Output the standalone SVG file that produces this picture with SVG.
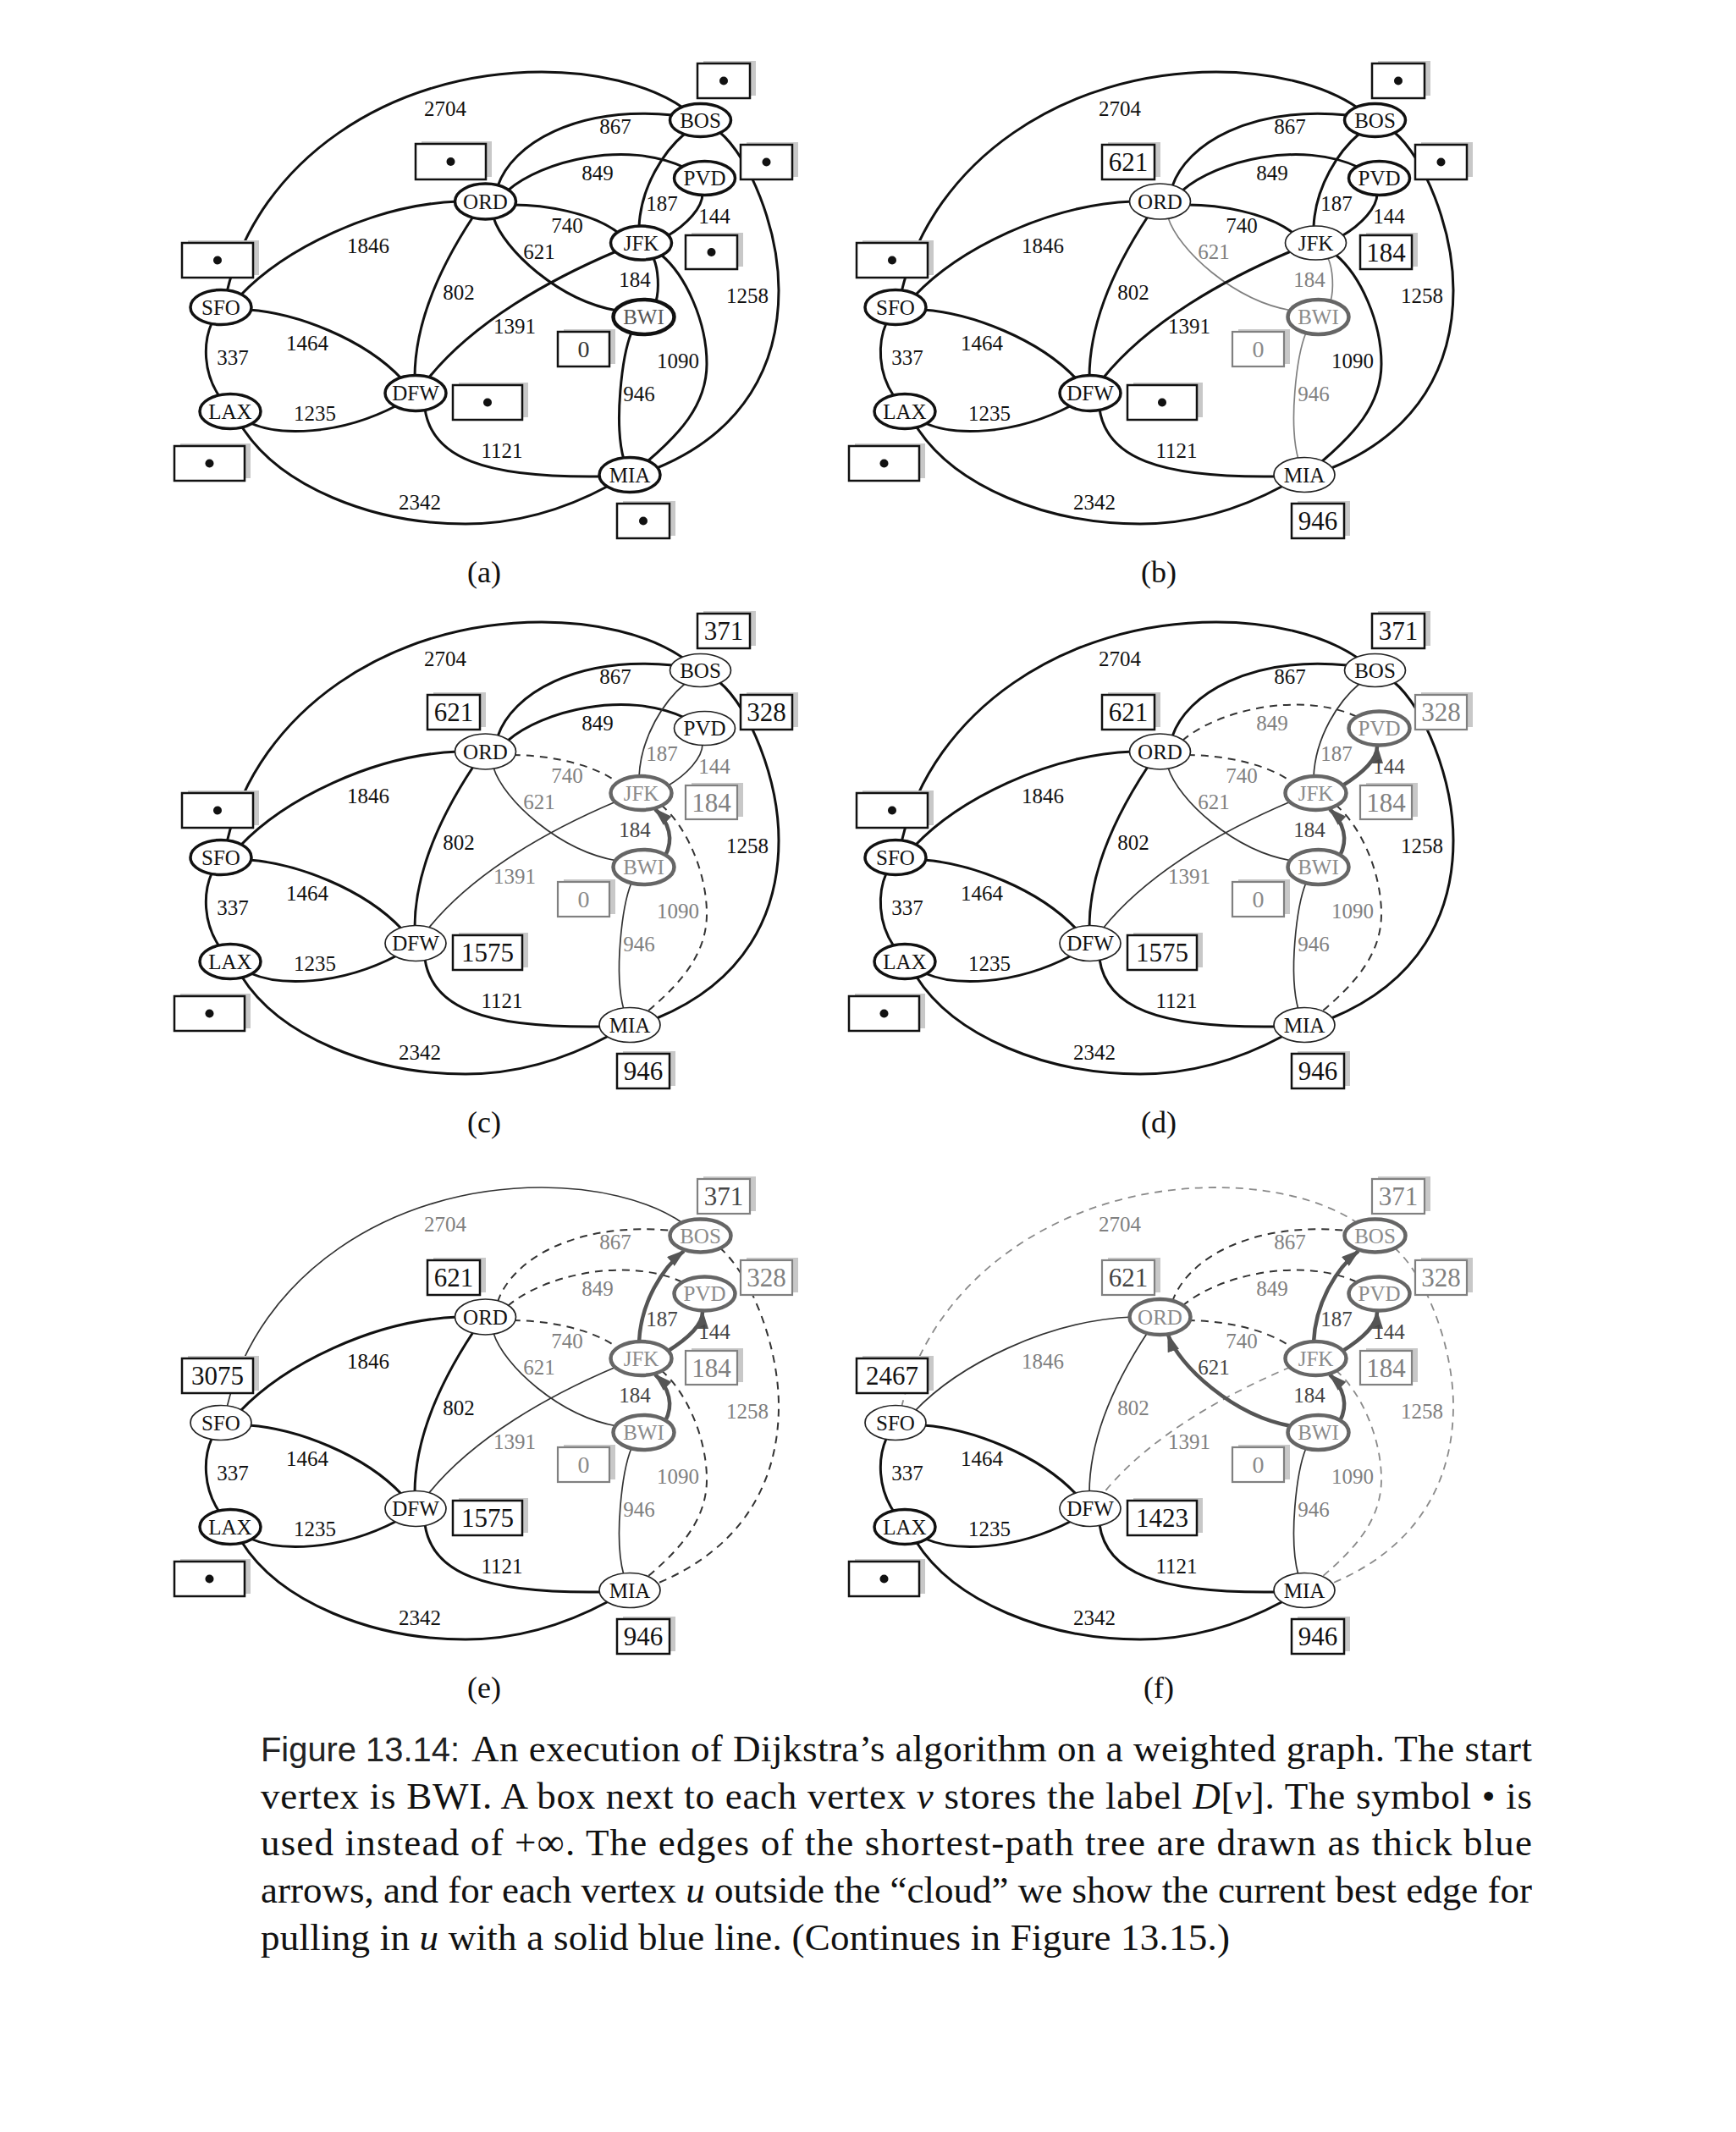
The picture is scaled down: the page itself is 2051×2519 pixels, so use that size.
<svg xmlns="http://www.w3.org/2000/svg" xmlns:xlink="http://www.w3.org/1999/xlink" width="2051" height="2519" viewBox="0 0 2051 2519">
<style>
text{font-family:"Liberation Serif","DejaVu Serif",serif}
.w{font-size:25px;text-anchor:middle;fill:#111}
.wg{fill:#808080}
.wd{fill:#454545}
.k,.t,.tg,.d,.dg,.arr{fill:none}
.k{stroke:#111;stroke-width:3}
.t{stroke:#333;stroke-width:1.7}
.tg{stroke:#808080;stroke-width:1.7}
.d{stroke:#333;stroke-width:2;stroke-dasharray:9 7}
.dg{stroke:#8a8a8a;stroke-width:1.8;stroke-dasharray:9 7}
.arr{stroke:#555;stroke-width:4.5;marker-end:url(#ah)}
.sh{fill:#c8c8c8}
.bx{fill:#fff;stroke:#111;stroke-width:2.5}
.bxg{fill:#fff;stroke:#808080;stroke-width:2.2}
.dot{fill:#111}
.v{font-size:31px;text-anchor:middle;fill:#111}
.vg{fill:#808080}
.vd{fill:#454545}
.z{font-size:28px;text-anchor:middle;fill:#333}
.zg{fill:#8a8a8a}
.n ellipse{fill:#fff}
.n text{font-size:25px;text-anchor:middle;fill:#111}
.nk ellipse{stroke:#111;stroke-width:3.5}
.nt ellipse{stroke:#222;stroke-width:1.7}
.nc ellipse{stroke:#666;stroke-width:4.5}
.nc text{fill:#8a8a8a}
.ns ellipse{stroke:#111;stroke-width:4.5}
.ns text{fill:#555}
.pl{font-size:36px;text-anchor:middle;fill:#111}
.cap{font-size:45px;fill:#111}
.fig{font-family:"Liberation Sans",Arial,sans-serif;font-size:40px;fill:#222}
</style>
<defs>
<marker id="ah" viewBox="0 0 22 14" refX="20" refY="7" markerWidth="22" markerHeight="14" markerUnits="userSpaceOnUse" orient="auto"><path d="M0,0 L22,7 L0,14 z" fill="#555"/></marker>
<path id="e_sfo_bos" d="M268,345 C305,190 460,85 640,85 C700,85 765,98 808,128"/>
<path id="e_sfo_ord" d="M283,350 C335,295 440,242 541,238"/>
<path id="e_sfo_dfw" d="M294,366 C350,370 430,400 475,448"/>
<path id="e_sfo_lax" d="M250,382 C240,405 240,440 259,468"/>
<path id="e_lax_dfw" d="M296,500 C330,515 400,515 469,479"/>
<path id="e_lax_mia" d="M285,503 C330,575 440,619 550,619 C620,619 680,595 719,574"/>
<path id="e_ord_bos" d="M588,220 C605,170 680,125 795,136"/>
<path id="e_ord_pvd" d="M600,225 C640,190 740,165 809,198"/>
<path id="e_ord_jfk" d="M606,242 C640,242 700,250 733,277"/>
<path id="e_ord_bwi" d="M583,257 C595,295 660,355 729,367"/>
<path id="e_ord_dfw" d="M559,256 C530,300 490,370 490,446"/>
<path id="e_bos_jfk" d="M809,158 C785,178 757,220 755,268"/>
<path id="e_pvd_jfk" d="M830,229 C830,245 812,265 788,279"/>
<path id="e_bos_mia" d="M850,156 C885,185 920,270 920,343 C920,430 880,510 776,553"/>
<path id="e_jfk_bwi" d="M772,305 C778,318 779,342 775,356"/>
<path id="e_jfk_mia" d="M781,301 C810,325 835,380 835,430 C835,480 800,515 765,545"/>
<path id="e_jfk_dfw" d="M728,297 C650,330 560,380 506,447"/>
<path id="e_bwi_mia" d="M746,393 C735,420 725,500 737,543"/>
<path id="e_dfw_mia" d="M502,483 C510,540 570,565 711,563"/>
</defs>
<rect x="0" y="0" width="2051" height="2519" fill="#fff"/>

<!-- ===================== PANEL (a) ===================== -->
<g id="panel-a">
<g id="a-edges">
<use href="#e_sfo_bos" class="k"/><use href="#e_sfo_ord" class="k"/><use href="#e_sfo_dfw" class="k"/><use href="#e_sfo_lax" class="k"/>
<use href="#e_lax_dfw" class="k"/><use href="#e_lax_mia" class="k"/><use href="#e_ord_bos" class="k"/><use href="#e_ord_pvd" class="k"/>
<use href="#e_ord_jfk" class="k"/><use href="#e_ord_bwi" class="k"/><use href="#e_ord_dfw" class="k"/><use href="#e_bos_jfk" class="k"/>
<use href="#e_pvd_jfk" class="k"/><use href="#e_bos_mia" class="k"/><use href="#e_jfk_bwi" class="k"/><use href="#e_jfk_mia" class="k"/>
<use href="#e_jfk_dfw" class="k"/><use href="#e_bwi_mia" class="k"/><use href="#e_dfw_mia" class="k"/>
</g>
<g id="a-weights" class="w">
<text x="526" y="136.5">2704</text><text x="435" y="298.5">1846</text><text x="363" y="413.5">1464</text><text x="275" y="430.5">337</text>
<text x="372" y="496.5">1235</text><text x="496" y="601.5">2342</text><text x="727" y="157.5">867</text><text x="706" y="212.5">849</text>
<text x="670" y="274.5">740</text><text x="637" y="305.5">621</text><text x="542" y="353.5">802</text><text x="782" y="248.5">187</text>
<text x="844" y="263.5">144</text><text x="883" y="357.5">1258</text><text x="750" y="338.5">184</text><text x="801" y="434.5">1090</text>
<text x="608" y="393.5">1391</text><text x="755" y="473.5">946</text><text x="593" y="540.5">1121</text>
</g>
<g id="a-boxes">
<g id="a-box-BOS"><rect class="sh" x="831" y="72" width="62" height="41"/><rect class="bx" x="824" y="75" width="62" height="41"/><circle class="dot" cx="855" cy="95.5" r="5"/></g>
<g id="a-box-PVD"><rect class="sh" x="882" y="168" width="61" height="41"/><rect class="bx" x="875" y="171" width="61" height="41"/><circle class="dot" cx="905.5" cy="191.5" r="5"/></g>
<g id="a-box-ORD"><rect class="sh" x="498" y="167" width="83" height="42"/><rect class="bx" x="491" y="170" width="83" height="42"/><circle class="dot" cx="532.5" cy="191" r="5"/></g>
<g id="a-box-SFO"><rect class="sh" x="222" y="284" width="84" height="41"/><rect class="bx" x="215" y="287" width="84" height="41"/><circle class="dot" cx="257" cy="307.5" r="5"/></g>
<g id="a-box-JFK"><rect class="sh" x="817" y="275" width="61" height="40"/><rect class="bx" x="810" y="278" width="61" height="40"/><circle class="dot" cx="840.5" cy="298" r="5"/></g>
<g id="a-box-BWI"><rect class="sh" x="666" y="389" width="61" height="41"/><rect class="bx" x="659" y="392" width="61" height="41"/><text class="z" x="689.5" y="422">0</text></g>
<g id="a-box-DFW"><rect class="sh" x="542" y="452" width="82" height="41"/><rect class="bx" x="535" y="455" width="82" height="41"/><circle class="dot" cx="576" cy="475.5" r="5"/></g>
<g id="a-box-LAX"><rect class="sh" x="213" y="524" width="83" height="41"/><rect class="bx" x="206" y="527" width="83" height="41"/><circle class="dot" cx="247.5" cy="547.5" r="5"/></g>
<g id="a-box-MIA"><rect class="sh" x="736" y="592" width="62" height="41"/><rect class="bx" x="729" y="595" width="62" height="41"/><circle class="dot" cx="760" cy="615.5" r="5"/></g>
</g>
<g id="a-SFO" class="n nk"><ellipse cx="261" cy="363" rx="36" ry="20.5"/><text x="261" y="371.5">SFO</text></g>
<g id="a-LAX" class="n nk"><ellipse cx="272" cy="486" rx="36" ry="20.5"/><text x="272" y="494.5">LAX</text></g>
<g id="a-DFW" class="n nk"><ellipse cx="491" cy="464.5" rx="36" ry="21"/><text x="491" y="473">DFW</text></g>
<g id="a-ORD" class="n nk"><ellipse cx="573.5" cy="238" rx="36" ry="21"/><text x="573.5" y="246.5">ORD</text></g>
<g id="a-BOS" class="n nk"><ellipse cx="827.5" cy="142" rx="36" ry="19.5"/><text x="827.5" y="150.5">BOS</text></g>
<g id="a-PVD" class="n nk"><ellipse cx="832.5" cy="210.5" rx="36" ry="20"/><text x="832.5" y="219">PVD</text></g>
<g id="a-JFK" class="n nk"><ellipse cx="757.5" cy="287" rx="36" ry="20"/><text x="757.5" y="295.5">JFK</text></g>
<g id="a-BWI" class="n ns"><ellipse cx="760.5" cy="374.5" rx="36" ry="20.5"/><text x="760.5" y="383">BWI</text></g>
<g id="a-MIA" class="n nk"><ellipse cx="744" cy="561" rx="36" ry="20.5"/><text x="744" y="569.5">MIA</text></g>
<text class="pl" x="572" y="688">(a)</text>
</g>

<!-- ===================== PANEL (b) ===================== -->
<g id="panel-b" transform="translate(797,0)">
<g id="b-edges">
<use href="#e_sfo_bos" class="k"/><use href="#e_sfo_ord" class="k"/><use href="#e_sfo_dfw" class="k"/><use href="#e_sfo_lax" class="k"/>
<use href="#e_lax_dfw" class="k"/><use href="#e_lax_mia" class="k"/><use href="#e_ord_bos" class="k"/><use href="#e_ord_pvd" class="k"/>
<use href="#e_ord_jfk" class="k"/><use href="#e_ord_bwi" class="tg"/><use href="#e_ord_dfw" class="k"/><use href="#e_bos_jfk" class="k"/>
<use href="#e_pvd_jfk" class="k"/><use href="#e_bos_mia" class="k"/><use href="#e_jfk_bwi" class="tg"/><use href="#e_jfk_mia" class="k"/>
<use href="#e_jfk_dfw" class="k"/><use href="#e_bwi_mia" class="tg"/><use href="#e_dfw_mia" class="k"/>
</g>
<g id="b-weights" class="w">
<text x="526" y="136.5">2704</text><text x="435" y="298.5">1846</text><text x="363" y="413.5">1464</text><text x="275" y="430.5">337</text>
<text x="372" y="496.5">1235</text><text x="496" y="601.5">2342</text><text x="727" y="157.5">867</text><text x="706" y="212.5">849</text>
<text x="670" y="274.5">740</text><text class="wg" x="637" y="305.5">621</text><text x="542" y="353.5">802</text><text x="782" y="248.5">187</text>
<text x="844" y="263.5">144</text><text x="883" y="357.5">1258</text><text class="wg" x="750" y="338.5">184</text><text x="801" y="434.5">1090</text>
<text x="608" y="393.5">1391</text><text class="wg" x="755" y="473.5">946</text><text x="593" y="540.5">1121</text>
</g>
<g id="b-boxes">
<g id="b-box-BOS"><rect class="sh" x="831" y="72" width="62" height="41"/><rect class="bx" x="824" y="75" width="62" height="41"/><circle class="dot" cx="855" cy="95.5" r="5"/></g>
<g id="b-box-PVD"><rect class="sh" x="882" y="168" width="61" height="41"/><rect class="bx" x="875" y="171" width="61" height="41"/><circle class="dot" cx="905.5" cy="191.5" r="5"/></g>
<g id="b-box-ORD"><rect class="sh" x="512" y="168" width="62" height="41"/><rect class="bx" x="505" y="171" width="62" height="41"/><text class="v" x="536" y="202">621</text></g>
<g id="b-box-SFO"><rect class="sh" x="222" y="284" width="84" height="41"/><rect class="bx" x="215" y="287" width="84" height="41"/><circle class="dot" cx="257" cy="307.5" r="5"/></g>
<g id="b-box-JFK"><rect class="sh" x="817" y="275" width="61" height="40"/><rect class="bx" x="810" y="278" width="61" height="40"/><text class="v" x="840.5" y="308.5">184</text></g>
<g id="b-box-BWI"><rect class="sh" x="666" y="389" width="61" height="41"/><rect class="bxg" x="659" y="392" width="61" height="41"/><text class="z zg" x="689.5" y="422">0</text></g>
<g id="b-box-DFW"><rect class="sh" x="542" y="452" width="82" height="41"/><rect class="bx" x="535" y="455" width="82" height="41"/><circle class="dot" cx="576" cy="475.5" r="5"/></g>
<g id="b-box-LAX"><rect class="sh" x="213" y="524" width="83" height="41"/><rect class="bx" x="206" y="527" width="83" height="41"/><circle class="dot" cx="247.5" cy="547.5" r="5"/></g>
<g id="b-box-MIA"><rect class="sh" x="736" y="592" width="62" height="41"/><rect class="bx" x="729" y="595" width="62" height="41"/><text class="v" x="760" y="626">946</text></g>
</g>
<g id="b-SFO" class="n nk"><ellipse cx="261" cy="363" rx="36" ry="20.5"/><text x="261" y="371.5">SFO</text></g>
<g id="b-LAX" class="n nk"><ellipse cx="272" cy="486" rx="36" ry="20.5"/><text x="272" y="494.5">LAX</text></g>
<g id="b-DFW" class="n nk"><ellipse cx="491" cy="464.5" rx="36" ry="21"/><text x="491" y="473">DFW</text></g>
<g id="b-ORD" class="n nt"><ellipse cx="573.5" cy="238" rx="36" ry="21"/><text x="573.5" y="246.5">ORD</text></g>
<g id="b-BOS" class="n nk"><ellipse cx="827.5" cy="142" rx="36" ry="19.5"/><text x="827.5" y="150.5">BOS</text></g>
<g id="b-PVD" class="n nk"><ellipse cx="832.5" cy="210.5" rx="36" ry="20"/><text x="832.5" y="219">PVD</text></g>
<g id="b-JFK" class="n nt"><ellipse cx="757.5" cy="287" rx="36" ry="20"/><text x="757.5" y="295.5">JFK</text></g>
<g id="b-BWI" class="n nc"><ellipse cx="760.5" cy="374.5" rx="36" ry="20.5"/><text x="760.5" y="383">BWI</text></g>
<g id="b-MIA" class="n nt"><ellipse cx="744" cy="561" rx="36" ry="20.5"/><text x="744" y="569.5">MIA</text></g>
<text class="pl" x="572" y="688">(b)</text>
</g>

<!-- ===================== PANEL (c) ===================== -->
<g id="panel-c" transform="translate(0,650)">
<g id="c-edges">
<use href="#e_sfo_bos" class="k"/><use href="#e_sfo_ord" class="k"/><use href="#e_sfo_dfw" class="k"/><use href="#e_sfo_lax" class="k"/>
<use href="#e_lax_dfw" class="k"/><use href="#e_lax_mia" class="k"/><use href="#e_ord_bos" class="k"/><use href="#e_ord_pvd" class="k"/>
<use href="#e_ord_jfk" class="d"/><use href="#e_ord_bwi" class="t"/><use href="#e_ord_dfw" class="k"/><use href="#e_bos_jfk" class="t"/>
<use href="#e_pvd_jfk" class="t"/><use href="#e_bos_mia" class="k"/><use href="#e_jfk_mia" class="d"/>
<use href="#e_jfk_dfw" class="t"/><use href="#e_bwi_mia" class="t"/><use href="#e_dfw_mia" class="k"/>
<path class="arr" d="M786,361 C796,342 791,322 774,306"/>
</g>
<g id="c-weights" class="w">
<text x="526" y="136.5">2704</text><text x="435" y="298.5">1846</text><text x="363" y="413.5">1464</text><text x="275" y="430.5">337</text>
<text x="372" y="496.5">1235</text><text x="496" y="601.5">2342</text><text x="727" y="157.5">867</text><text x="706" y="212.5">849</text>
<text class="wg" x="670" y="274.5">740</text><text class="wg" x="637" y="305.5">621</text><text x="542" y="353.5">802</text><text class="wg" x="782" y="248.5">187</text>
<text class="wg" x="844" y="263.5">144</text><text x="883" y="357.5">1258</text><text class="wd" x="750" y="338.5">184</text><text class="wg" x="801" y="434.5">1090</text>
<text class="wg" x="608" y="393.5">1391</text><text class="wg" x="755" y="473.5">946</text><text x="593" y="540.5">1121</text>
</g>
<g id="c-boxes">
<g id="c-box-BOS"><rect class="sh" x="831" y="72" width="62" height="41"/><rect class="bx" x="824" y="75" width="62" height="41"/><text class="v" x="855" y="106">371</text></g>
<g id="c-box-PVD"><rect class="sh" x="882" y="168" width="61" height="41"/><rect class="bx" x="875" y="171" width="61" height="41"/><text class="v" x="905.5" y="202">328</text></g>
<g id="c-box-ORD"><rect class="sh" x="512" y="168" width="62" height="41"/><rect class="bx" x="505" y="171" width="62" height="41"/><text class="v" x="536" y="202">621</text></g>
<g id="c-box-SFO"><rect class="sh" x="222" y="284" width="84" height="41"/><rect class="bx" x="215" y="287" width="84" height="41"/><circle class="dot" cx="257" cy="307.5" r="5"/></g>
<g id="c-box-JFK"><rect class="sh" x="817" y="275" width="61" height="40"/><rect class="bxg" x="810" y="278" width="61" height="40"/><text class="v vg" x="840.5" y="308.5">184</text></g>
<g id="c-box-BWI"><rect class="sh" x="666" y="389" width="61" height="41"/><rect class="bxg" x="659" y="392" width="61" height="41"/><text class="z zg" x="689.5" y="422">0</text></g>
<g id="c-box-DFW"><rect class="sh" x="542" y="452" width="82" height="41"/><rect class="bx" x="535" y="455" width="82" height="41"/><text class="v" x="576" y="486">1575</text></g>
<g id="c-box-LAX"><rect class="sh" x="213" y="524" width="83" height="41"/><rect class="bx" x="206" y="527" width="83" height="41"/><circle class="dot" cx="247.5" cy="547.5" r="5"/></g>
<g id="c-box-MIA"><rect class="sh" x="736" y="592" width="62" height="41"/><rect class="bx" x="729" y="595" width="62" height="41"/><text class="v" x="760" y="626">946</text></g>
</g>
<g id="c-SFO" class="n nk"><ellipse cx="261" cy="363" rx="36" ry="20.5"/><text x="261" y="371.5">SFO</text></g>
<g id="c-LAX" class="n nk"><ellipse cx="272" cy="486" rx="36" ry="20.5"/><text x="272" y="494.5">LAX</text></g>
<g id="c-DFW" class="n nt"><ellipse cx="491" cy="464.5" rx="36" ry="21"/><text x="491" y="473">DFW</text></g>
<g id="c-ORD" class="n nt"><ellipse cx="573.5" cy="238" rx="36" ry="21"/><text x="573.5" y="246.5">ORD</text></g>
<g id="c-BOS" class="n nt"><ellipse cx="827.5" cy="142" rx="36" ry="19.5"/><text x="827.5" y="150.5">BOS</text></g>
<g id="c-PVD" class="n nt"><ellipse cx="832.5" cy="210.5" rx="36" ry="20"/><text x="832.5" y="219">PVD</text></g>
<g id="c-JFK" class="n nc"><ellipse cx="757.5" cy="287" rx="36" ry="20"/><text x="757.5" y="295.5">JFK</text></g>
<g id="c-BWI" class="n nc"><ellipse cx="760.5" cy="374.5" rx="36" ry="20.5"/><text x="760.5" y="383">BWI</text></g>
<g id="c-MIA" class="n nt"><ellipse cx="744" cy="561" rx="36" ry="20.5"/><text x="744" y="569.5">MIA</text></g>
<text class="pl" x="572" y="688">(c)</text>
</g>

<!-- ===================== PANEL (d) ===================== -->
<g id="panel-d" transform="translate(797,650)">
<g id="d-edges">
<use href="#e_sfo_bos" class="k"/><use href="#e_sfo_ord" class="k"/><use href="#e_sfo_dfw" class="k"/><use href="#e_sfo_lax" class="k"/>
<use href="#e_lax_dfw" class="k"/><use href="#e_lax_mia" class="k"/><use href="#e_ord_bos" class="k"/><use href="#e_ord_pvd" class="d"/>
<use href="#e_ord_jfk" class="d"/><use href="#e_ord_bwi" class="t"/><use href="#e_ord_dfw" class="k"/><use href="#e_bos_jfk" class="t"/>
<use href="#e_bos_mia" class="k"/><use href="#e_jfk_mia" class="d"/>
<use href="#e_jfk_dfw" class="t"/><use href="#e_bwi_mia" class="t"/><use href="#e_dfw_mia" class="k"/>
<path class="arr" d="M786,361 C796,342 791,322 774,306"/>
<path class="arr" d="M788,279 C815,262 830,247 830,232"/>
</g>
<g id="d-weights" class="w">
<text x="526" y="136.5">2704</text><text x="435" y="298.5">1846</text><text x="363" y="413.5">1464</text><text x="275" y="430.5">337</text>
<text x="372" y="496.5">1235</text><text x="496" y="601.5">2342</text><text x="727" y="157.5">867</text><text class="wg" x="706" y="212.5">849</text>
<text class="wg" x="670" y="274.5">740</text><text class="wg" x="637" y="305.5">621</text><text x="542" y="353.5">802</text><text class="wg" x="782" y="248.5">187</text>
<text class="wd" x="844" y="263.5">144</text><text x="883" y="357.5">1258</text><text class="wd" x="750" y="338.5">184</text><text class="wg" x="801" y="434.5">1090</text>
<text class="wg" x="608" y="393.5">1391</text><text class="wg" x="755" y="473.5">946</text><text x="593" y="540.5">1121</text>
</g>
<g id="d-boxes">
<g id="d-box-BOS"><rect class="sh" x="831" y="72" width="62" height="41"/><rect class="bx" x="824" y="75" width="62" height="41"/><text class="v" x="855" y="106">371</text></g>
<g id="d-box-PVD"><rect class="sh" x="882" y="168" width="61" height="41"/><rect class="bxg" x="875" y="171" width="61" height="41"/><text class="v vg" x="905.5" y="202">328</text></g>
<g id="d-box-ORD"><rect class="sh" x="512" y="168" width="62" height="41"/><rect class="bx" x="505" y="171" width="62" height="41"/><text class="v" x="536" y="202">621</text></g>
<g id="d-box-SFO"><rect class="sh" x="222" y="284" width="84" height="41"/><rect class="bx" x="215" y="287" width="84" height="41"/><circle class="dot" cx="257" cy="307.5" r="5"/></g>
<g id="d-box-JFK"><rect class="sh" x="817" y="275" width="61" height="40"/><rect class="bxg" x="810" y="278" width="61" height="40"/><text class="v vg" x="840.5" y="308.5">184</text></g>
<g id="d-box-BWI"><rect class="sh" x="666" y="389" width="61" height="41"/><rect class="bxg" x="659" y="392" width="61" height="41"/><text class="z zg" x="689.5" y="422">0</text></g>
<g id="d-box-DFW"><rect class="sh" x="542" y="452" width="82" height="41"/><rect class="bx" x="535" y="455" width="82" height="41"/><text class="v" x="576" y="486">1575</text></g>
<g id="d-box-LAX"><rect class="sh" x="213" y="524" width="83" height="41"/><rect class="bx" x="206" y="527" width="83" height="41"/><circle class="dot" cx="247.5" cy="547.5" r="5"/></g>
<g id="d-box-MIA"><rect class="sh" x="736" y="592" width="62" height="41"/><rect class="bx" x="729" y="595" width="62" height="41"/><text class="v" x="760" y="626">946</text></g>
</g>
<g id="d-SFO" class="n nk"><ellipse cx="261" cy="363" rx="36" ry="20.5"/><text x="261" y="371.5">SFO</text></g>
<g id="d-LAX" class="n nk"><ellipse cx="272" cy="486" rx="36" ry="20.5"/><text x="272" y="494.5">LAX</text></g>
<g id="d-DFW" class="n nt"><ellipse cx="491" cy="464.5" rx="36" ry="21"/><text x="491" y="473">DFW</text></g>
<g id="d-ORD" class="n nt"><ellipse cx="573.5" cy="238" rx="36" ry="21"/><text x="573.5" y="246.5">ORD</text></g>
<g id="d-BOS" class="n nt"><ellipse cx="827.5" cy="142" rx="36" ry="19.5"/><text x="827.5" y="150.5">BOS</text></g>
<g id="d-PVD" class="n nc"><ellipse cx="832.5" cy="210.5" rx="36" ry="20"/><text x="832.5" y="219">PVD</text></g>
<g id="d-JFK" class="n nc"><ellipse cx="757.5" cy="287" rx="36" ry="20"/><text x="757.5" y="295.5">JFK</text></g>
<g id="d-BWI" class="n nc"><ellipse cx="760.5" cy="374.5" rx="36" ry="20.5"/><text x="760.5" y="383">BWI</text></g>
<g id="d-MIA" class="n nt"><ellipse cx="744" cy="561" rx="36" ry="20.5"/><text x="744" y="569.5">MIA</text></g>
<text class="pl" x="572" y="688">(d)</text>
</g>

<!-- ===================== PANEL (e) ===================== -->
<g id="panel-e" transform="translate(0,1318)">
<g id="e-edges">
<use href="#e_sfo_bos" class="t"/><use href="#e_sfo_ord" class="k"/><use href="#e_sfo_dfw" class="k"/><use href="#e_sfo_lax" class="k"/>
<use href="#e_lax_dfw" class="k"/><use href="#e_lax_mia" class="k"/><use href="#e_ord_bos" class="d"/><use href="#e_ord_pvd" class="d"/>
<use href="#e_ord_jfk" class="d"/><use href="#e_ord_bwi" class="t"/><use href="#e_ord_dfw" class="k"/>
<use href="#e_bos_mia" class="d"/><use href="#e_jfk_mia" class="d"/>
<use href="#e_jfk_dfw" class="t"/><use href="#e_bwi_mia" class="t"/><use href="#e_dfw_mia" class="k"/>
<path class="arr" d="M786,361 C796,342 791,322 774,306"/>
<path class="arr" d="M788,279 C815,262 830,247 830,232"/>
<path class="arr" d="M755,268 C757,220 783,180 808,160"/>
</g>
<g id="e-weights" class="w">
<text class="wg" x="526" y="136.5">2704</text><text x="435" y="298.5">1846</text><text x="363" y="413.5">1464</text><text x="275" y="430.5">337</text>
<text x="372" y="496.5">1235</text><text x="496" y="601.5">2342</text><text class="wg" x="727" y="157.5">867</text><text class="wg" x="706" y="212.5">849</text>
<text class="wg" x="670" y="274.5">740</text><text class="wg" x="637" y="305.5">621</text><text x="542" y="353.5">802</text><text class="wd" x="782" y="248.5">187</text>
<text class="wd" x="844" y="263.5">144</text><text class="wg" x="883" y="357.5">1258</text><text class="wd" x="750" y="338.5">184</text><text class="wg" x="801" y="434.5">1090</text>
<text class="wg" x="608" y="393.5">1391</text><text class="wg" x="755" y="473.5">946</text><text x="593" y="540.5">1121</text>
</g>
<g id="e-boxes">
<g id="e-box-BOS"><rect class="sh" x="831" y="72" width="62" height="41"/><rect class="bxg" x="824" y="75" width="62" height="41"/><text class="v vd" x="855" y="106">371</text></g>
<g id="e-box-PVD"><rect class="sh" x="882" y="168" width="61" height="41"/><rect class="bxg" x="875" y="171" width="61" height="41"/><text class="v vg" x="905.5" y="202">328</text></g>
<g id="e-box-ORD"><rect class="sh" x="512" y="168" width="62" height="41"/><rect class="bx" x="505" y="171" width="62" height="41"/><text class="v" x="536" y="202">621</text></g>
<g id="e-box-SFO"><rect class="sh" x="222" y="284" width="84" height="41"/><rect class="bx" x="215" y="287" width="84" height="41"/><text class="v" x="257" y="318">3075</text></g>
<g id="e-box-JFK"><rect class="sh" x="817" y="275" width="61" height="40"/><rect class="bxg" x="810" y="278" width="61" height="40"/><text class="v vg" x="840.5" y="308.5">184</text></g>
<g id="e-box-BWI"><rect class="sh" x="666" y="389" width="61" height="41"/><rect class="bxg" x="659" y="392" width="61" height="41"/><text class="z zg" x="689.5" y="422">0</text></g>
<g id="e-box-DFW"><rect class="sh" x="542" y="452" width="82" height="41"/><rect class="bx" x="535" y="455" width="82" height="41"/><text class="v" x="576" y="486">1575</text></g>
<g id="e-box-LAX"><rect class="sh" x="213" y="524" width="83" height="41"/><rect class="bx" x="206" y="527" width="83" height="41"/><circle class="dot" cx="247.5" cy="547.5" r="5"/></g>
<g id="e-box-MIA"><rect class="sh" x="736" y="592" width="62" height="41"/><rect class="bx" x="729" y="595" width="62" height="41"/><text class="v" x="760" y="626">946</text></g>
</g>
<g id="e-SFO" class="n nt"><ellipse cx="261" cy="363" rx="36" ry="20.5"/><text x="261" y="371.5">SFO</text></g>
<g id="e-LAX" class="n nk"><ellipse cx="272" cy="486" rx="36" ry="20.5"/><text x="272" y="494.5">LAX</text></g>
<g id="e-DFW" class="n nt"><ellipse cx="491" cy="464.5" rx="36" ry="21"/><text x="491" y="473">DFW</text></g>
<g id="e-ORD" class="n nt"><ellipse cx="573.5" cy="238" rx="36" ry="21"/><text x="573.5" y="246.5">ORD</text></g>
<g id="e-BOS" class="n nc"><ellipse cx="827.5" cy="142" rx="36" ry="19.5"/><text x="827.5" y="150.5">BOS</text></g>
<g id="e-PVD" class="n nc"><ellipse cx="832.5" cy="210.5" rx="36" ry="20"/><text x="832.5" y="219">PVD</text></g>
<g id="e-JFK" class="n nc"><ellipse cx="757.5" cy="287" rx="36" ry="20"/><text x="757.5" y="295.5">JFK</text></g>
<g id="e-BWI" class="n nc"><ellipse cx="760.5" cy="374.5" rx="36" ry="20.5"/><text x="760.5" y="383">BWI</text></g>
<g id="e-MIA" class="n nt"><ellipse cx="744" cy="561" rx="36" ry="20.5"/><text x="744" y="569.5">MIA</text></g>
<text class="pl" x="572" y="688">(e)</text>
</g>

<!-- ===================== PANEL (f) ===================== -->
<g id="panel-f" transform="translate(797,1318)">
<g id="f-edges">
<use href="#e_sfo_bos" class="dg"/><use href="#e_sfo_ord" class="t"/><use href="#e_sfo_dfw" class="k"/><use href="#e_sfo_lax" class="k"/>
<use href="#e_lax_dfw" class="k"/><use href="#e_lax_mia" class="k"/><use href="#e_ord_bos" class="d"/><use href="#e_ord_pvd" class="d"/>
<use href="#e_ord_jfk" class="d"/><use href="#e_ord_dfw" class="t"/>
<use href="#e_bos_mia" class="dg"/><use href="#e_jfk_mia" class="dg"/>
<use href="#e_jfk_dfw" class="dg"/><use href="#e_bwi_mia" class="t"/><use href="#e_dfw_mia" class="k"/>
<path class="arr" d="M786,361 C796,342 791,322 774,306"/>
<path class="arr" d="M788,279 C815,262 830,247 830,232"/>
<path class="arr" d="M755,268 C757,220 783,180 808,160"/>
<path class="arr" d="M729,367 C660,355 595,295 583,259"/>
</g>
<g id="f-weights" class="w">
<text class="wg" x="526" y="136.5">2704</text><text class="wg" x="435" y="298.5">1846</text><text x="363" y="413.5">1464</text><text x="275" y="430.5">337</text>
<text x="372" y="496.5">1235</text><text x="496" y="601.5">2342</text><text class="wg" x="727" y="157.5">867</text><text class="wg" x="706" y="212.5">849</text>
<text class="wg" x="670" y="274.5">740</text><text class="wd" x="637" y="305.5">621</text><text class="wg" x="542" y="353.5">802</text><text class="wd" x="782" y="248.5">187</text>
<text class="wd" x="844" y="263.5">144</text><text class="wg" x="883" y="357.5">1258</text><text class="wd" x="750" y="338.5">184</text><text class="wg" x="801" y="434.5">1090</text>
<text class="wg" x="608" y="393.5">1391</text><text class="wg" x="755" y="473.5">946</text><text x="593" y="540.5">1121</text>
</g>
<g id="f-boxes">
<g id="f-box-BOS"><rect class="sh" x="831" y="72" width="62" height="41"/><rect class="bxg" x="824" y="75" width="62" height="41"/><text class="v vg" x="855" y="106">371</text></g>
<g id="f-box-PVD"><rect class="sh" x="882" y="168" width="61" height="41"/><rect class="bxg" x="875" y="171" width="61" height="41"/><text class="v vg" x="905.5" y="202">328</text></g>
<g id="f-box-ORD"><rect class="sh" x="512" y="168" width="62" height="41"/><rect class="bxg" x="505" y="171" width="62" height="41"/><text class="v vd" x="536" y="202">621</text></g>
<g id="f-box-SFO"><rect class="sh" x="222" y="284" width="84" height="41"/><rect class="bx" x="215" y="287" width="84" height="41"/><text class="v" x="257" y="318">2467</text></g>
<g id="f-box-JFK"><rect class="sh" x="817" y="275" width="61" height="40"/><rect class="bxg" x="810" y="278" width="61" height="40"/><text class="v vg" x="840.5" y="308.5">184</text></g>
<g id="f-box-BWI"><rect class="sh" x="666" y="389" width="61" height="41"/><rect class="bxg" x="659" y="392" width="61" height="41"/><text class="z zg" x="689.5" y="422">0</text></g>
<g id="f-box-DFW"><rect class="sh" x="542" y="452" width="82" height="41"/><rect class="bx" x="535" y="455" width="82" height="41"/><text class="v" x="576" y="486">1423</text></g>
<g id="f-box-LAX"><rect class="sh" x="213" y="524" width="83" height="41"/><rect class="bx" x="206" y="527" width="83" height="41"/><circle class="dot" cx="247.5" cy="547.5" r="5"/></g>
<g id="f-box-MIA"><rect class="sh" x="736" y="592" width="62" height="41"/><rect class="bx" x="729" y="595" width="62" height="41"/><text class="v" x="760" y="626">946</text></g>
</g>
<g id="f-SFO" class="n nt"><ellipse cx="261" cy="363" rx="36" ry="20.5"/><text x="261" y="371.5">SFO</text></g>
<g id="f-LAX" class="n nk"><ellipse cx="272" cy="486" rx="36" ry="20.5"/><text x="272" y="494.5">LAX</text></g>
<g id="f-DFW" class="n nt"><ellipse cx="491" cy="464.5" rx="36" ry="21"/><text x="491" y="473">DFW</text></g>
<g id="f-ORD" class="n nc"><ellipse cx="573.5" cy="238" rx="36" ry="21"/><text x="573.5" y="246.5">ORD</text></g>
<g id="f-BOS" class="n nc"><ellipse cx="827.5" cy="142" rx="36" ry="19.5"/><text x="827.5" y="150.5">BOS</text></g>
<g id="f-PVD" class="n nc"><ellipse cx="832.5" cy="210.5" rx="36" ry="20"/><text x="832.5" y="219">PVD</text></g>
<g id="f-JFK" class="n nc"><ellipse cx="757.5" cy="287" rx="36" ry="20"/><text x="757.5" y="295.5">JFK</text></g>
<g id="f-BWI" class="n nc"><ellipse cx="760.5" cy="374.5" rx="36" ry="20.5"/><text x="760.5" y="383">BWI</text></g>
<g id="f-MIA" class="n nt"><ellipse cx="744" cy="561" rx="36" ry="20.5"/><text x="744" y="569.5">MIA</text></g>
<text class="pl" x="572" y="688">(f)</text>
</g>

<!-- ===================== CAPTION ===================== -->
<g id="caption">
<text class="fig" x="308" y="2081" textLength="235" lengthAdjust="spacingAndGlyphs">Figure 13.14:</text>
<text class="cap" x="557" y="2081" textLength="1253" lengthAdjust="spacing">An execution of Dijkstra’s algorithm on a weighted graph. The start</text>
<text class="cap" x="308" y="2137" textLength="1502" lengthAdjust="spacing">vertex is BWI. A box next to each vertex <tspan font-style="italic">v</tspan> stores the label <tspan font-style="italic">D</tspan>[<tspan font-style="italic">v</tspan>]. The symbol • is</text>
<text class="cap" x="308" y="2192" textLength="1502" lengthAdjust="spacing">used instead of +∞. The edges of the shortest-path tree are drawn as thick blue</text>
<text class="cap" x="308" y="2248" textLength="1502" lengthAdjust="spacing">arrows, and for each vertex <tspan font-style="italic">u</tspan> outside the “cloud” we show the current best edge for</text>
<text class="cap" x="308" y="2304" textLength="1145" lengthAdjust="spacing">pulling in <tspan font-style="italic">u</tspan> with a solid blue line. (Continues in Figure 13.15.)</text>
</g>
</svg>
